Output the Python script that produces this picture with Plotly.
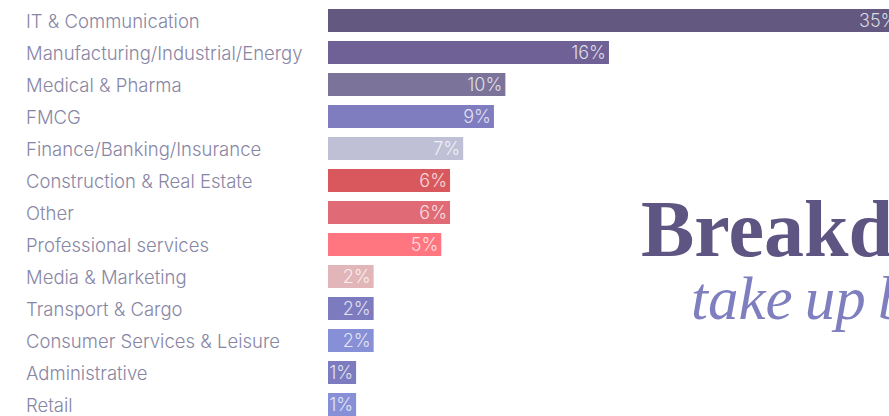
import plotly.graph_objects as go

# Categories (top to bottom)
sectors = [
    "IT & Communication",
    "Manufacturing/Industrial/Energy",
    "Medical & Pharma",
    "FMCG",
    "Finance/Banking/Insurance",
    "Construction & Real Estate",
    "Other",
    "Professional services",
    "Media & Marketing",
    "Transport & Cargo",
    "Consumer Services & Leisure",
    "Administrative",
    "Retail",
]
# Percentage shown on each bar
share_pct = [35, 16, 10, 9, 7, 6, 6, 5, 2, 2, 2, 1, 1]
# Bar lengths as drawn in the graphic (same scale units)
bar_length = [32.6, 16.0, 10.1, 9.45, 7.7, 6.95, 6.95, 6.45, 2.6, 2.6, 2.6, 1.6, 1.6]
bar_colors = [
    "#625880", "#6f6096", "#7b7399", "#7f7dbf", "#bfc0d6",
    "#d9585e", "#e06a75", "#ff7680", "#e2b6b8", "#7d7bbf",
    "#8790d6", "#7d7bbf", "#8790d6",
]
title_main = "Breakdown"
title_sub = "take\u2009up\u2009by sector"

W, H = 889, 416
ML = 328
PLOT_W = W - ML
PX_PER_UNIT = 17.56
BAND = 32.0

fig = go.Figure(
    go.Bar(
        x=bar_length,
        y=sectors,
        orientation="h",
        marker=dict(color=bar_colors, line=dict(width=0)),
        text=[f"{v}%" for v in share_pct],
        textposition="inside",
        insidetextanchor="end",
        constraintext="none",
        insidetextfont=dict(family="Inter", size=18, color="rgba(255,255,255,0.78)", weight=300),
        hoverinfo="skip",
        cliponaxis=True,
    )
)

top_idx = -20.5 / BAND
fig.update_layout(
    width=W,
    height=H,
    margin=dict(l=ML, r=0, t=0, b=0, autoexpand=False),
    paper_bgcolor="white",
    plot_bgcolor="white",
    bargap=0.28,
    showlegend=False,
    xaxis=dict(range=[0, PLOT_W / PX_PER_UNIT], visible=False, fixedrange=True),
    yaxis=dict(
        type="category",
        categoryorder="array",
        categoryarray=sectors,
        range=[top_idx + H / BAND, top_idx],
        showticklabels=False,
        showgrid=False,
        zeroline=False,
        showline=False,
        ticks="",
    ),
)

annotations = []
label_x = (23.5 - ML) / PLOT_W
for s in sectors:
    annotations.append(dict(
        x=label_x, xref="paper", y=s, yref="y",
        text=s, showarrow=False, xanchor="left", yanchor="middle",
        font=dict(family="Inter", size=18.5, color="#8886a5", weight=300),
    ))

annotations.append(dict(
    x=(639 - ML) / PLOT_W, xref="paper", y=1 - 229 / H, yref="paper",
    text=f"<b>{title_main}</b>", showarrow=False, xanchor="left", yanchor="middle",
    font=dict(family="Liberation Serif", size=80, color="#5f5582"),
))
annotations.append(dict(
    x=(689 - ML) / PLOT_W, xref="paper", y=1 - 298 / H, yref="paper",
    text=f"<i>{title_sub}</i>", showarrow=False, xanchor="left", yanchor="middle",
    font=dict(family="Liberation Serif", size=61, color="#7f7fbf"),
))
fig.update_layout(annotations=annotations)

fig.write_html(
    "out.html",
    config={"displayModeBar": False},
    post_script="document.body.style.margin='0';document.body.style.overflow='hidden';",
)
